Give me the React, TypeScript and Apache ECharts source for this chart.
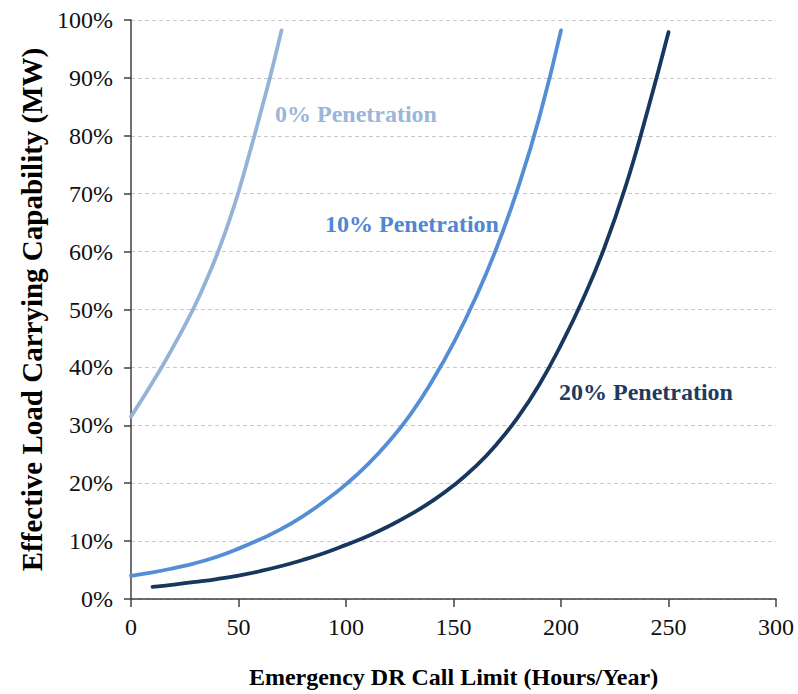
import React, { useEffect, useRef } from "react";
import * as echarts from "echarts";

const xTicks = [0, 50, 100, 150, 200, 250, 300];
const yTickLabels = ["0%", "10%", "20%", "30%", "40%", "50%", "60%", "70%", "80%", "90%", "100%"];

const pen0X = [0, 5, 10, 15, 20, 25, 30, 35, 40, 45, 50, 55, 60, 65, 70];
const pen0Y = [31.5, 34.4, 37.4, 40.5, 43.8, 47.2, 50.9, 55.0, 59.5, 64.6, 70.3, 76.8, 83.6, 90.6, 98.2];

const pen10X = [0, 10, 20, 30, 40, 50, 60, 70, 80, 90, 100, 110, 120, 130, 140, 150, 160, 170, 180, 190, 200];
const pen10Y = [4.0, 4.6, 5.35, 6.2, 7.3, 8.7, 10.3, 12.1, 14.3, 16.9, 19.8, 23.2, 27.2, 31.9, 37.6, 44.2, 51.8, 60.6, 71.0, 83.3, 98.2];

const pen20X = [10, 20, 30, 40, 50, 60, 70, 80, 90, 100, 110, 120, 130, 140, 150, 160, 170, 180, 190, 200, 210, 220, 230, 240, 250];
const pen20Y = [2.1, 2.5, 2.95, 3.45, 4.05, 4.8, 5.7, 6.75, 7.95, 9.35, 10.85, 12.6, 14.6, 16.9, 19.6, 22.8, 26.7, 31.4, 37.1, 43.9, 51.6, 60.5, 71.2, 84.0, 97.9];

const seriesNames = ["0% Penetration", "10% Penetration", "20% Penetration"];
const lineColors = ["#95B3D7", "#558ED5", "#17375E"];
const labelColors = ["#9AB6D9", "#4F87D1", "#1F3A60"];

const FONT = "Liberation Serif";

function zip(xs: number[], ys: number[]) {
  return xs.map((x, i) => [x, ys[i]]);
}

export default function App() {
  const ref = useRef<HTMLDivElement>(null);
  useEffect(() => {
    if (!ref.current) return;
    const chart = echarts.init(ref.current, null, { renderer: "svg" });
    const datasets = [zip(pen0X, pen0Y), zip(pen10X, pen10Y), zip(pen20X, pen20Y)];
    chart.setOption({
      animation: false,
      backgroundColor: "#ffffff",
      textStyle: { fontFamily: FONT },
      grid: { left: 131, right: 22, top: 20, bottom: 94 },
      xAxis: {
        type: "value",
        min: 0,
        max: 300,
        interval: 50,
        name: "Emergency DR Call Limit (Hours/Year)",
        nameLocation: "middle",
        nameGap: 66,
        nameTextStyle: { fontFamily: FONT, fontSize: 24, fontWeight: "bold", color: "#000" },
        axisLine: { show: true, lineStyle: { color: "#404040", width: 1.5 } },
        axisTick: { show: true, length: 8, lineStyle: { color: "#404040", width: 1.5 } },
        axisLabel: {
          fontFamily: FONT,
          fontSize: 24,
          color: "#111",
          margin: 16,
          formatter: (v: number) => (xTicks.includes(v) ? String(v) : ""),
        },
        splitLine: { show: false },
      },
      yAxis: {
        type: "value",
        min: 0,
        max: 100,
        interval: 10,
        name: "Effective Load Carrying Capability (MW)",
        nameLocation: "middle",
        nameRotate: 90,
        nameGap: 84,
        nameTextStyle: { fontFamily: FONT, fontSize: 29, fontWeight: "bold", color: "#000" },
        axisLine: { show: true, lineStyle: { color: "#404040", width: 1.5 } },
        axisTick: { show: true, length: 7, lineStyle: { color: "#404040", width: 1.5 } },
        axisLabel: {
          fontFamily: FONT,
          fontSize: 24,
          color: "#111",
          margin: 18,
          formatter: (v: number) => yTickLabels[Math.round(v / 10)] ?? "",
        },
        splitLine: { show: true, lineStyle: { color: "#C8C8C8", type: [4, 3], width: 1 } },
      },
      series: datasets.map((d, i) => ({
        name: seriesNames[i],
        type: "line",
        data: d,
        smooth: 0.5,
        showSymbol: false,
        symbol: "none",
        lineStyle: { color: lineColors[i], width: 3.8, cap: "round" },
        z: 3 + i,
      })),
      graphic: [
        { x: 275, y: 114, label: 0 },
        { x: 325, y: 223.5, label: 1 },
        { x: 559, y: 392, label: 2 },
      ].map((g) => ({
        type: "text",
        x: g.x,
        y: g.y,
        z: 10,
        style: {
          text: seriesNames[g.label],
          fill: labelColors[g.label],
          fontFamily: FONT,
          fontSize: 24,
          fontWeight: "bold",
          align: "left",
          verticalAlign: "middle",
          textAlign: "left",
          textVerticalAlign: "middle",
        },
      })),
    });
    return () => chart.dispose();
  }, []);
  return (
    <div
      ref={ref}
      style={{ position: "fixed", left: 0, top: 0, width: 798, height: 694, background: "#fff" }}
    />
  );
}
